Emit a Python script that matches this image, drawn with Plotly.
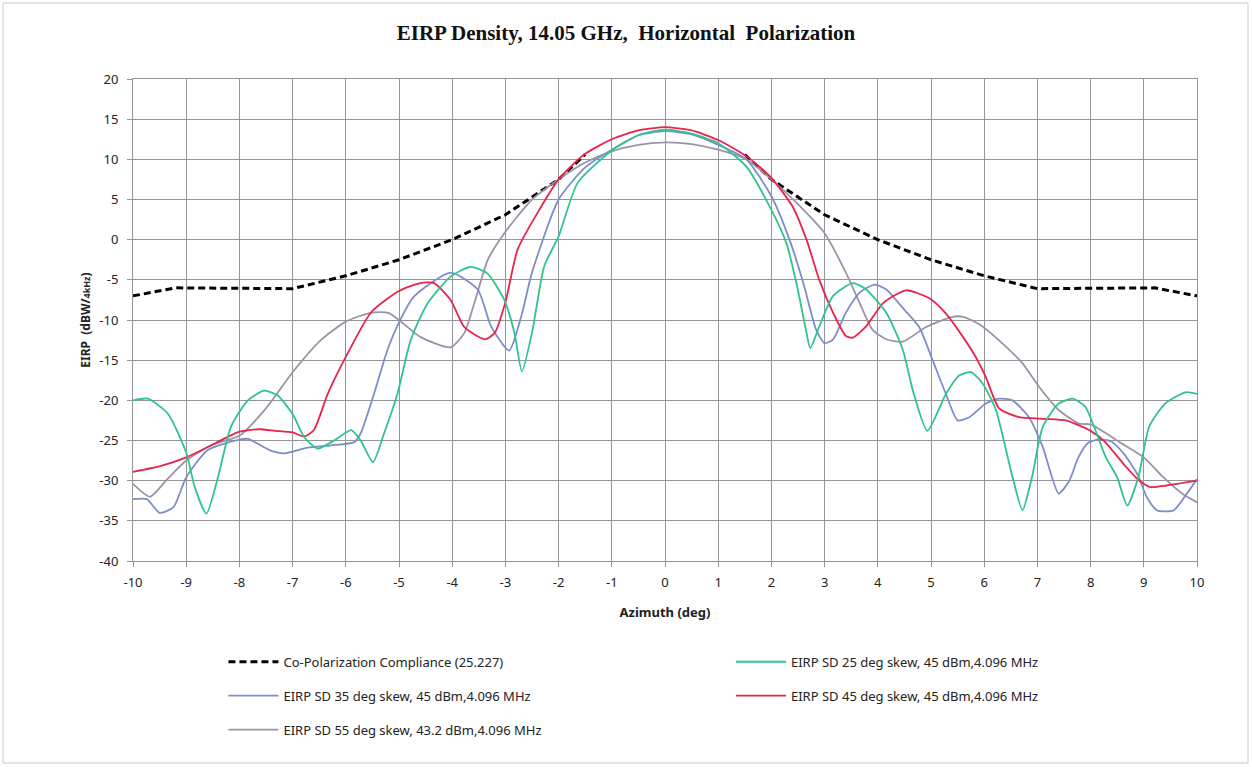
import plotly.graph_objects as go

# ---------------- data ----------------
mask_x = [-10, -9.2, -7.0, -6.0, -5.0, -4.0, -3.0, -2.0, -1.5]
mask_y = [-7.0, -6.0, -6.1, -4.5, -2.5, 0.0, 3.1, 7.5, 10.6]
mask_x_r = [1.5, 2.0, 3.0, 4.0, 5.0, 6.0, 7.0, 9.2, 10]
mask_y_r = [10.6, 7.5, 3.1, 0.0, -2.5, -4.5, -6.1, -6.0, -7.0]

g25_x = [-10, -9.72, -9.34, -9.0, -8.84, -8.62, -8.4, -8.16, -7.84, -7.53, -7.28, -7.0, -6.78,
         -6.53, -6.22, -5.9, -5.72, -5.49, -5.28, -5.03, -4.78, -4.47, -4.03, -3.66, -3.34,
         -3.02, -2.83, -2.69, -2.5, -2.27, -2.0, -1.64, -1.0, -0.5, 0, 0.5, 1.0, 1.53, 2.0,
         2.28, 2.47, 2.66, 2.73, 2.9, 3.16, 3.53, 3.78, 4.16, 4.47, 4.66, 4.93, 5.28, 5.53,
         5.75, 5.97, 6.22, 6.53, 6.72, 6.9, 7.1, 7.4, 7.66, 7.9, 8.28, 8.5, 8.69, 8.9, 9.1,
         9.4, 9.78, 10]
g25_y = [-20, -19.8, -21.7, -26.5, -30.8, -34.1, -29.5, -23.3, -20, -18.8, -19.4, -21.7, -24.6,
         -26, -25, -23.7, -25, -27.7, -24.1, -19.2, -12.5, -8, -4.6, -3.4, -4.2,
         -7.5, -11.6, -16.4, -11.6, -3.3, 0.4, 7.1, 11.1, 13.0, 13.7, 13.2, 12.0, 9.1, 3.7,
         -0.4, -5.4, -11.6, -13.5, -10.8, -7.0, -5.4, -6.2, -9.1, -13.7, -18.8, -23.8, -19.2, -16.9,
         -16.5, -17.9, -21.2, -29.5, -33.7, -29.5, -23.3, -20.4, -19.8, -20.8, -27, -29.6, -33.1, -29.5, -23.3,
         -20.4, -19, -19.2]

b35_x = [-10, -9.74, -9.5, -9.24, -9.0, -8.6, -8.0, -7.84, -7.4, -7.16, -6.72, -6.28, -5.84,
         -5.72, -5.47, -5.22, -5.0, -4.72, -4.03, -3.52, -3.27, -2.93, -2.7, -2.5, -2.0, -1.5,
         -1.0, -0.5, 0, 0.5, 1.0, 1.53, 2.0, 2.34, 2.6, 2.84, 3.0, 3.16, 3.4, 3.66, 3.94, 4.16,
         4.47, 4.78, 5.03, 5.28, 5.5, 5.72, 6.03, 6.28, 6.53, 6.84, 7.1, 7.4, 7.6, 7.77, 7.95,
         8.14, 8.38, 8.63, 8.88, 9.06, 9.25, 9.56, 9.8, 10]
b35_y = [-32.3, -32.3, -34, -33.3, -29.6, -26.2, -24.9, -24.8, -26.3, -26.6, -25.9, -25.6, -25.2,
         -24.1, -19.2, -13.8, -10.3, -7.1, -4.1, -6.2, -10.8, -13.8, -9.5, -4.1, 5.0, 9.0,
         11.2, 13.0, 13.5, 13.1, 11.8, 10.0, 5.4, 0.0, -5.4, -11.2, -12.9, -12.4, -9.1, -6.6, -5.6, -6.2,
         -8.5, -10.9, -15.0, -19.2, -22.5, -22.1, -20.4, -19.8, -20.0, -22.1, -25.8, -31.6, -30.0, -27.1, -25.3,
         -24.9, -25.1, -26.7, -29.2, -32.1, -33.7, -33.7, -31.7, -29.8]

r45_x = [-10, -9.49, -9.0, -8.5, -8.0, -7.63, -7.32, -7.0, -6.78, -6.6, -6.34, -6.0, -5.52,
         -5.0, -4.6, -4.34, -4.03, -3.77, -3.39, -3.2, -3.0, -2.77, -2.4, -2.0, -1.52, -1.0,
         -0.5, 0, 0.5, 1.0, 1.53, 2.0, 2.4, 2.66, 2.9, 3.16, 3.4, 3.53, 3.78, 4.1, 4.53, 4.97,
         5.28, 5.6, 5.84, 6.03, 6.28, 6.66, 7.16, 7.53, 8.0, 8.26, 8.63, 8.88, 9.12, 9.43, 10]
r45_y = [-28.9, -28.2, -27.1, -25.5, -23.9, -23.6, -23.8, -24.0, -24.5, -23.7, -19.2, -14.6, -9.0,
         -6.4, -5.4, -5.4, -7.5, -10.9, -12.4, -11.6, -7.8, -1.2, 3.3, 7.5, 10.6, 12.5,
         13.6, 14.0, 13.6, 12.4, 10.4, 7.7, 4.1, 0.0, -5.0, -9.1, -12.0, -12.2, -10.8, -7.9, -6.3, -7.3,
         -9.2, -12.1, -14.6, -17.1, -21.0, -22.1, -22.3, -22.5, -23.8, -25.1, -28.0, -29.8, -30.8, -30.6, -30.0]

g55_x = [-10, -9.68, -9.38, -9.0, -8.5, -8.0, -7.5, -7.0, -6.47, -6.0, -5.53, -5.2, -5.0, -4.6,
         -4.03, -3.77, -3.58, -3.33, -3.02, -2.5, -2.0, -1.5, -1.0, -0.5, 0, 0.5, 1.0, 1.53,
         2.0, 2.47, 3.0, 3.4, 3.66, 3.9, 4.16, 4.47, 4.9, 5.4, 5.6, 5.9, 6.34, 6.72, 7.03, 7.4,
         7.78, 8.0, 8.57, 9.0, 9.37, 9.74, 10]
g55_y = [-30.4, -32.0, -30.0, -27.5, -25.5, -24.4, -21.0, -16.5, -12.5, -10.2, -9.1, -9.1, -10.0, -12.1,
         -13.4, -11.6, -7.8, -2.5, 0.8, 5.0, 7.5, 9.6, 11.0, 11.8, 12.1, 11.9, 11.2, 10.0,
         7.5, 4.6, 0.8, -4.1, -7.9, -11.2, -12.4, -12.7, -10.9, -9.6, -9.6, -10.5, -12.9, -15.4, -18.3, -21.2,
         -22.9, -23.0, -25.3, -27.1, -29.6, -31.7, -32.7]

x_ticks = list(range(-10, 11))
y_ticks = list(range(-40, 21, 5))
x_tick_text = [str(v) for v in x_ticks]
y_tick_text = [str(v) for v in y_ticks]

names = {
    "mask": "Co-Polarization Compliance (25.227)",
    "g25": "EIRP SD 25 deg skew, 45 dBm,4.096 MHz",
    "b35": "EIRP SD 35 deg skew, 45 dBm,4.096 MHz",
    "r45": "EIRP SD 45 deg skew, 45 dBm,4.096 MHz",
    "g55": "EIRP SD 55 deg skew, 43.2 dBm,4.096 MHz",
}

# ---------------- figure ----------------
fig = go.Figure()
mask_style = dict(color="black", width=3, dash="7px,4px")

fig.add_trace(go.Scatter(x=mask_x, y=mask_y, mode="lines", line=mask_style,
                         name=names["mask"], legend="legend", legendgroup="a", legendrank=1))
fig.add_trace(go.Scatter(x=mask_x_r, y=mask_y_r, mode="lines", line=mask_style,
                         name=names["mask"], showlegend=False, legendgroup="a"))

sm = 0.6
fig.add_trace(go.Scatter(x=g55_x, y=g55_y, mode="lines", name=names["g55"],
                         line=dict(color="#9C93A8", width=1.8, shape="spline", smoothing=sm),
                         legend="legend", legendgroup="e", legendrank=3))
fig.add_trace(go.Scatter(x=b35_x, y=b35_y, mode="lines", name=names["b35"],
                         line=dict(color="#7E8CCB", width=1.8, shape="spline", smoothing=sm),
                         legend="legend", legendgroup="c", legendrank=2))
fig.add_trace(go.Scatter(x=r45_x, y=r45_y, mode="lines", name=names["r45"],
                         line=dict(color="#E8234C", width=1.8, shape="spline", smoothing=sm),
                         legend="legend2", legendgroup="d", legendrank=2))
fig.add_trace(go.Scatter(x=g25_x, y=g25_y, mode="lines", name=names["g25"],
                         line=dict(color="#2EC48C", width=1.8, shape="spline", smoothing=sm),
                         legend="legend2", legendgroup="b", legendrank=1))

font_main = "Noto Sans, Liberation Sans, sans-serif"
axis_common = dict(showgrid=True, gridcolor="#959595", gridwidth=1,
                   showline=True, linecolor="#959595", linewidth=1, mirror=True,
                   ticks="outside", ticklen=5, tickcolor="#959595",
                   tickfont=dict(family=font_main, size=13, color="#222"),
                   zeroline=False)

legend_y = -0.178
fig.update_layout(
    width=1252, height=767,
    paper_bgcolor="white", plot_bgcolor="white",
    margin=dict(l=133, r=55, t=79, b=206),
    title=dict(text="<b>EIRP Density, 14.05 GHz,  Horizontal  Polarization</b>",
               x=0.5, xanchor="center", y=0.957, yanchor="middle",
               font=dict(family="Liberation Serif, Times New Roman, serif", size=21, color="#111")),
    xaxis=dict(range=[-10, 10], tickmode="array", tickvals=x_ticks, ticktext=x_tick_text,
               ticklabelstandoff=4,
               title=dict(text="<b>Azimuth (deg)</b>", standoff=18,
                          font=dict(family=font_main, size=13, color="#222")),
               **axis_common),
    yaxis=dict(range=[-40, 20], tickmode="array", tickvals=y_ticks, ticktext=y_tick_text,
               ticklabelstandoff=6,
               title=dict(text="<b>EIRP  (dBW/<span style='font-size:9px'>4kHz</span>)</b>", standoff=6,
                          font=dict(family=font_main, size=12, color="#222")),
               **axis_common),
    legend=dict(x=0.085, xanchor="left", y=legend_y, yanchor="top",
                orientation="v", tracegroupgap=14, itemwidth=50,
                font=dict(family=font_main, size=13, color="#222"),
                bgcolor="rgba(0,0,0,0)"),
    legend2=dict(x=0.562, xanchor="left", y=legend_y, yanchor="top",
                 orientation="v", tracegroupgap=14, itemwidth=50,
                 font=dict(family=font_main, size=13, color="#222"),
                 bgcolor="rgba(0,0,0,0)"),
    showlegend=True,
)

# thin outer border around the whole chart
fig.add_shape(type="rect", xref="paper", yref="paper",
              x0=(3 - 133) / 1064, x1=(1248 - 133) / 1064,
              y0=(561 - 763) / 482, y1=(561 - 3) / 482,
              line=dict(color="#C8C8C8", width=1), fillcolor="rgba(0,0,0,0)", layer="below")

fig.write_html("out.html", config={"displayModeBar": False},
               post_script="document.body.style.margin='0';document.body.style.overflow='hidden';")
